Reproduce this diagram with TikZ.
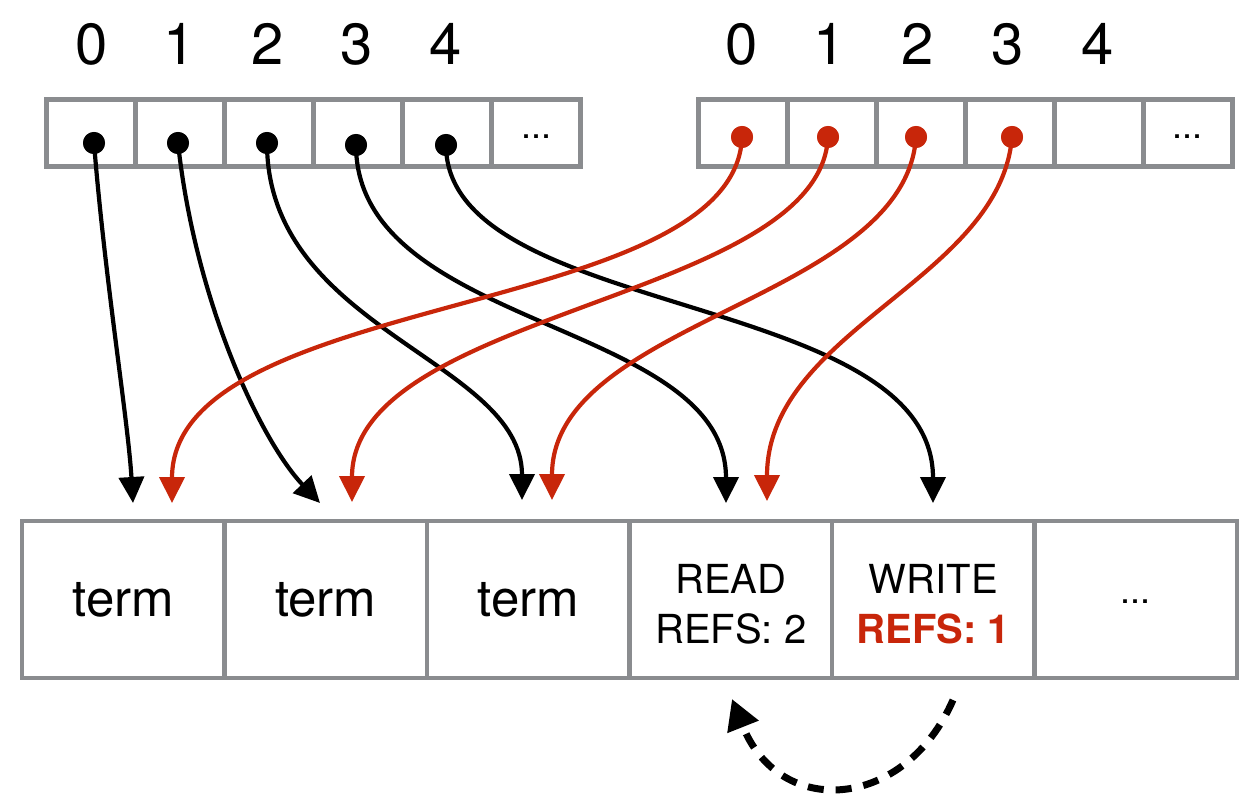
\documentclass[tikz,border=0pt]{standalone}
\usepackage{fontspec}
\setmainfont{TeX Gyre Heros}
\usetikzlibrary{arrows.meta}
\definecolor{cgray}{HTML}{8A8C8F}
\definecolor{cred}{HTML}{C8260A}
\begin{document}
\begin{tikzpicture}[x=1pt,y=-1pt,
  topcell/.style={draw=cgray,line width=5pt,minimum width=89pt,minimum height=67pt,inner sep=0pt},
  botcell/.style={draw=cgray,line width=4.5pt,minimum width=202.5pt,minimum height=157pt,inner sep=0pt,align=center},
  idx/.style={font=\fontsize{58}{58}\selectfont,inner sep=0pt},
  ell/.style={font=\fontsize{36}{36}\selectfont,inner sep=0pt},
  bdot/.style={circle,fill=black,minimum size=22pt,inner sep=0pt},
  rdot/.style={circle,fill=cred,minimum size=22pt,inner sep=0pt},
  blk/.style={line width=4.2pt,black,-{Triangle[length=26pt,width=25pt]}},
  rd/.style={line width=4.2pt,cred,-{Triangle[length=26pt,width=25pt]}},
  termtxt/.style={font=\fontsize{51}{51}\selectfont},
  smalltxt/.style={font=\fontsize{40}{50}\selectfont,align=center,inner sep=0pt}
]
\useasboundingbox (0,0) rectangle (1247,799);
% top left array
\foreach \i/\x in {0/90.6,1/179.8,2/268.9,3/358.1,4/447.3,5/536.4}
  \node[topcell] (l\i) at (\x,133.5) {};
\node[ell] (ldots) at (536.4,137) {...};
% top right array
\foreach \i/\x in {0/742.5,1/831.5,2/920.5,3/1009.5,4/1098.5,5/1187.5}
  \node[topcell] (r\i) at (\x,133.5) {};
\node[ell] (rdots) at (1187.5,137) {...};
% index labels
\foreach \i/\x in {0/92,1/180,2/268,3/357,4/446}
  \node[idx] (li\i) at (\x,44) {\i};
\foreach \i/\x in {0/742,1/830,2/918,3/1008,4/1098}
  \node[idx] (ri\i) at (\x,44) {\i};
% bottom array
\node[botcell,termtxt] (m0) at (123.25,599.5) {term};
\node[botcell,termtxt] (m1) at (325.75,599.5) {term};
\node[botcell,termtxt] (m2) at (528.25,599.5) {term};
\node[botcell] (m3) at (730.75,599.5) {};
\node[botcell] (m4) at (933.25,599.5) {};
\node[botcell] (m5) at (1135.75,599.5) {};
\node[smalltxt] (m3t) at (730.75,604) {READ\\REFS: 2};
\node[smalltxt] (m4t) at (933.25,604) {WRITE\\\textcolor{cred}{\textbf{REFS: 1}}};
\node[ell] (mdots) at (1135.75,602) {...};
% dots
\node[bdot] (ld0) at (94,143) {};
\node[bdot] (ld1) at (178,143) {};
\node[bdot] (ld2) at (267,143) {};
\node[bdot] (ld3) at (356,145) {};
\node[bdot] (ld4) at (446,145) {};
\node[rdot] (rd0) at (742,137) {};
\node[rdot] (rd1) at (828,137) {};
\node[rdot] (rd2) at (916,137) {};
\node[rdot] (rd3) at (1012,137) {};
% arrow targets
\coordinate (tb0) at (133,503);
\coordinate (tb1) at (320,503);
\coordinate (tb2) at (522,500);
\coordinate (tb3) at (726,503);
\coordinate (tb4) at (933,503);
\coordinate (tr0) at (172,503);
\coordinate (tr1) at (352,502);
\coordinate (tr2) at (552,500);
\coordinate (tr3) at (767,501);
% black arrows
\draw[blk] (ld0.center) .. controls (105,280) and (128,420) .. (tb0);
\draw[blk] (ld1.center) .. controls (195,300) and (260,440) .. (tb1);
\draw[blk] (ld2.center) .. controls (267,330) and (522,360) .. (tb2);
\draw[blk] (ld3.center) .. controls (356,330) and (726,320) .. (tb3);
\draw[blk] (ld4.center) .. controls (446,320) and (933,290) .. (tb4);
% red arrows
\draw[rd] (rd0.center) .. controls (735,320) and (172,290) .. (tr0);
\draw[rd] (rd1.center) .. controls (820,300) and (352,310) .. (tr1);
\draw[rd] (rd2.center) .. controls (905,300) and (552,320) .. (tr2);
\draw[rd] (rd3.center) .. controls (1000,280) and (767,330) .. (tr3);
\node[bdot] at (ld0) {};
\node[bdot] at (ld1) {};
\node[bdot] at (ld2) {};
\node[bdot] at (ld3) {};
\node[bdot] at (ld4) {};
\node[rdot] at (rd0) {};
\node[rdot] at (rd1) {};
\node[rdot] at (rd2) {};
\node[rdot] at (rd3) {};
% dashed arrow
\coordinate (ds) at (953,700);
\coordinate (de) at (732,699);
\draw[line width=7pt,dash pattern=on 16pt off 12pt,-{Triangle[length=30pt,width=32pt]}]
  (ds) .. controls (905,810) and (780,820) .. (de);
\end{tikzpicture}
\end{document}
